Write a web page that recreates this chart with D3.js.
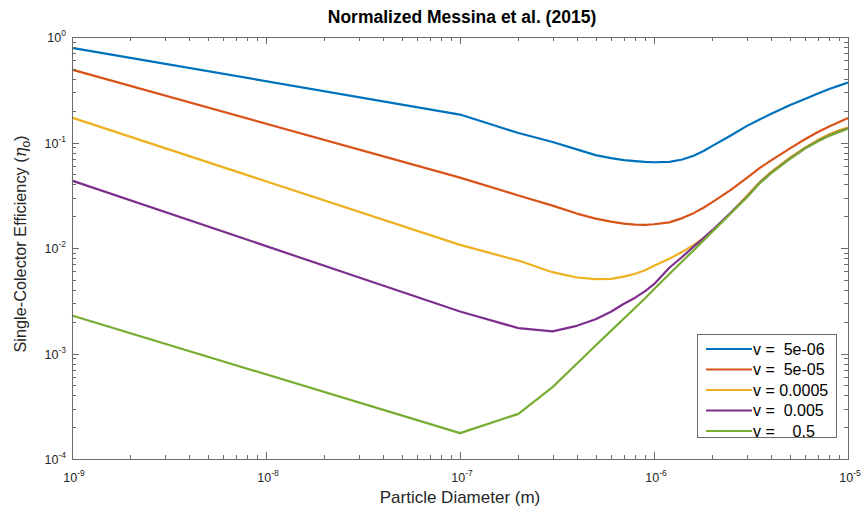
<!DOCTYPE html>
<html>
<head>
<meta charset="utf-8">
<script src="https://cdn.jsdelivr.net/npm/d3@7"></script>
<style>
  html, body { margin: 0; padding: 0; background: #fff; }
  svg { display: block; font-family: "Liberation Sans", Arial, Helvetica, sans-serif; }
</style>
</head>
<body>
<svg id="chart" width="861" height="508"></svg>
<script>
// ---------------- data ----------------
const diameters = [1e-9, 1e-7, 2e-7, 3e-7, 4e-7, 5e-7, 6e-7, 7e-7, 8e-7, 9e-7, 1e-6,
  1.2e-6, 1.4e-6, 1.6e-6, 1.8e-6, 2e-6, 2.5e-6, 3e-6, 3.5e-6, 4e-6, 5e-6, 6e-6, 7e-6, 8e-6, 9e-6, 1e-5];

const eta_v5e06 = [0.79, 0.184, 0.123, 0.101, 0.086, 0.076, 0.071, 0.068, 0.0666, 0.0656, 0.065,
  0.0655, 0.069, 0.075, 0.083, 0.093, 0.117, 0.143, 0.165, 0.186, 0.225, 0.259, 0.292, 0.321, 0.346, 0.370];
const eta_v5e05 = [0.49, 0.0465, 0.0315, 0.0252, 0.0212, 0.019, 0.0178, 0.017, 0.01665, 0.0166, 0.0168,
  0.0175, 0.0192, 0.0214, 0.0241, 0.0272, 0.0357, 0.0459, 0.0571, 0.0673, 0.0875, 0.1074, 0.1256, 0.1419, 0.1567, 0.1706];
const eta_v5e04 = [0.172, 0.0107, 0.0076, 0.0059, 0.00525, 0.00508, 0.0051, 0.00535, 0.0057, 0.00615, 0.0068,
  0.0079, 0.0092, 0.0107, 0.0124, 0.0146, 0.0216, 0.031, 0.042, 0.0525, 0.0715, 0.0895, 0.1060, 0.1195, 0.1305, 0.1385];
const eta_v5e03 = [0.0435, 0.0025, 0.00174, 0.00162, 0.00183, 0.00211, 0.00249, 0.00296, 0.00338, 0.0039, 0.00454,
  0.0065, 0.00826, 0.0103, 0.0124, 0.01475, 0.0218, 0.0303, 0.0413, 0.0513, 0.0700, 0.0880, 0.1035, 0.1163, 0.1268, 0.1355];
const eta_v5e01 = [0.00229, 0.000176, 0.000268, 0.00048, 0.0008, 0.00119, 0.00164, 0.00215, 0.00271, 0.00334, 0.00407,
  0.00567, 0.0075, 0.0095, 0.0118, 0.0143, 0.0215, 0.030, 0.041, 0.051, 0.0696, 0.0875, 0.1028, 0.1156, 0.1262, 0.1349];

const seriesValues = [eta_v5e06, eta_v5e05, eta_v5e04, eta_v5e03, eta_v5e01];
const legendLabels = ["v =  5e-06", "v =  5e-05", "v = 0.0005", "v =  0.005", "v =    0.5"];
const seriesColors = ["#0072BD", "#D95319", "#EDB120", "#7E2F8E", "#77AC30"];

const xTickExponents = [-9, -8, -7, -6, -5];
const yTickExponents = [0, -1, -2, -3, -4];

const titleText = "Normalized Messina et al. (2015)";
const xLabelText = "Particle Diameter (m)";

// ---------------- layout ----------------
const svg = d3.select("#chart");
const L = 72, R = 848, T = 37, B = 459;
const axisColor = "#6a6a6a";
const textColor = "#262626";

const x = d3.scaleLog().domain([1e-9, 1e-5]).range([L, R]);
const y = d3.scaleLog().domain([1e-4, 1]).range([B, T]);

// lines
const line = d3.line()
  .x((d, i) => x(diameters[i]))
  .y(d => y(d));

const plot = svg.append("g");
seriesValues.forEach((vals, k) => {
  plot.append("path")
    .attr("d", line(vals))
    .attr("fill", "none")
    .attr("stroke", seriesColors[k])
    .attr("stroke-width", 2.2)
    .attr("stroke-linejoin", "round");
});

// axes box + ticks (inward, mirrored)
const ax = svg.append("g").attr("stroke", axisColor).attr("fill", "none").attr("shape-rendering", "crispEdges");
ax.append("rect").attr("x", L).attr("y", T).attr("width", R - L).attr("height", B - T).attr("stroke-width", 1);

const xTicks = x.ticks();
xTicks.forEach(t => {
  const major = Math.abs(Math.log10(t) - Math.round(Math.log10(t))) < 1e-9;
  const len = major ? 7 : 4;
  const px = Math.round(x(t)) + 0.5;
  ax.append("line").attr("x1", px).attr("x2", px).attr("y1", B).attr("y2", B - len);
  ax.append("line").attr("x1", px).attr("x2", px).attr("y1", T).attr("y2", T + len);
});
const yTicks = y.ticks();
yTicks.forEach(t => {
  const major = Math.abs(Math.log10(t) - Math.round(Math.log10(t))) < 1e-9;
  const len = major ? 7 : 4;
  const py = Math.round(y(t)) + 0.5;
  ax.append("line").attr("y1", py).attr("y2", py).attr("x1", L).attr("x2", L + len);
  ax.append("line").attr("y1", py).attr("y2", py).attr("x1", R).attr("x2", R - len);
});

// tick labels
const tl = svg.append("g").attr("fill", textColor);
xTickExponents.forEach(e => {
  const t = tl.append("text")
    .attr("x", x(Math.pow(10, e)) + 2)
    .attr("y", 482)
    .attr("text-anchor", "middle")
    .attr("font-size", 12.5);
  t.append("tspan").text("10");
  t.append("tspan").attr("font-size", 8.5).attr("dy", -6).text(String(e));
});
yTickExponents.forEach(e => {
  const t = tl.append("text")
    .attr("x", 66)
    .attr("y", y(Math.pow(10, e)) + 5)
    .attr("text-anchor", "end")
    .attr("font-size", 12.5);
  t.append("tspan").text("10");
  t.append("tspan").attr("font-size", 8.5).attr("dy", -6).text(String(e));
});

// title
svg.append("text")
  .attr("x", 462)
  .attr("y", 23)
  .attr("text-anchor", "middle")
  .attr("font-size", 17.5)
  .attr("font-weight", "bold")
  .attr("fill", "#000")
  .text(titleText);

// x label
svg.append("text")
  .attr("x", 460)
  .attr("y", 503)
  .attr("text-anchor", "middle")
  .attr("font-size", 17)
  .attr("fill", textColor)
  .text(xLabelText);

// y label
const yl = svg.append("text")
  .attr("transform", `translate(26,244) rotate(-90)`)
  .attr("text-anchor", "middle")
  .attr("font-size", 16.3)
  .attr("fill", textColor);
yl.append("tspan").text("Single-Colector Efficiency (");
yl.append("tspan").attr("font-style", "italic").attr("font-family", "'DejaVu Serif', 'Liberation Serif', serif").text("η");
yl.append("tspan").attr("font-size", 12).attr("dy", 4).text("o");
yl.append("tspan").attr("dy", -4).text(")");

// legend
const lg = svg.append("g");
const lgX = 697, lgY = 334, lgW = 139, lgH = 103;
lg.append("rect").attr("x", lgX + 0.5).attr("y", lgY + 0.5).attr("width", lgW).attr("height", lgH)
  .attr("fill", "#fff").attr("stroke", axisColor).attr("shape-rendering", "crispEdges");
legendLabels.forEach((lab, k) => {
  const cy = lgY + 15 + k * 20.5;
  lg.append("line").attr("x1", lgX + 9).attr("x2", lgX + 55).attr("y1", cy).attr("y2", cy)
    .attr("stroke", seriesColors[k]).attr("stroke-width", 2.2);
  lg.append("text").attr("x", lgX + 56).attr("y", cy + 5.5)
    .attr("font-size", 16).attr("fill", "#000")
    .attr("xml:space", "preserve").style("white-space", "pre")
    .text(lab);
});
</script>
</body>
</html>
